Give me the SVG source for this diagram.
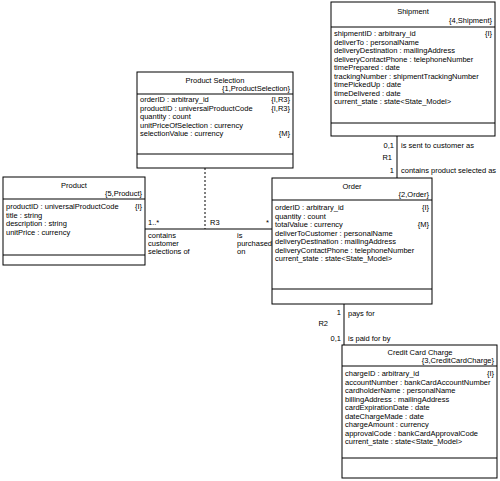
<svg xmlns="http://www.w3.org/2000/svg" width="500" height="481" viewBox="0 0 500 481">
<style>
text{font-family:"Liberation Sans",Arial,sans-serif;font-size:7.5px;fill:#000}
.c{text-anchor:middle}
.r{text-anchor:end}
.box{fill:#fff;stroke:#000;stroke-width:1}
.ln{stroke:#000;stroke-width:1;fill:none}
.dot{stroke:#000;stroke-width:1;stroke-dasharray:2,2;fill:none}
</style>
<rect width="500" height="481" fill="#fff"/>
<g id="connectors">
<line class="ln" x1="397" y1="136" x2="397" y2="178"/>
<line class="ln" x1="145" y1="229" x2="272" y2="229"/>
<line class="dot" x1="205" y1="168" x2="205" y2="229"/>
<line class="ln" x1="344" y1="304" x2="344" y2="345"/>
<text class="r" x="394" y="148">0,1</text>
<text x="401" y="148">is sent to customer as</text>
<text class="r" x="392" y="160">R1</text>
<text class="r" x="394" y="173">1</text>
<text x="401" y="173">contains product selected as</text>
<text x="148" y="225">1..*</text>
<text x="210" y="225">R3</text>
<text class="r" x="269" y="225">*</text>
<text x="148" y="238">contains</text>
<text x="148" y="246">customer</text>
<text x="148" y="254">selections of</text>
<text x="237" y="238">is</text>
<text x="237" y="246">purchased</text>
<text x="237" y="254">on</text>
<text class="r" x="341" y="315">1</text>
<text x="348" y="316">pays for</text>
<text class="r" x="328" y="326">R2</text>
<text class="r" x="341" y="341">0,1</text>
<text x="348" y="341">is paid for by</text>
</g>
<g id="shipment">
<rect class="box" x="331" y="2" width="164" height="134"/>
<line class="ln" x1="331" y1="27" x2="495" y2="27"/>
<line class="ln" x1="331" y1="123" x2="495" y2="123"/>
<text class="c" x="413" y="14">Shipment</text>
<text class="r" x="492" y="23">{4,Shipment}</text>
<text x="334" y="36">shipmentID : arbitrary_id</text>
<text class="r" x="492" y="36">{I}</text>
<text x="334" y="44.5">deliverTo : personalName</text>
<text x="334" y="53">deliveryDestination : mailingAddress</text>
<text x="334" y="61.5">deliveryContactPhone : telephoneNumber</text>
<text x="334" y="70">timePrepared : date</text>
<text x="334" y="78.5">trackingNumber : shipmentTrackingNumber</text>
<text x="334" y="87">timePickedUp : date</text>
<text x="334" y="95.5">timeDelivered : date</text>
<text x="334" y="104">current_state : state&lt;State_Model&gt;</text>
</g>
<g id="productSelection">
<rect class="box" x="137" y="72" width="156" height="96"/>
<line class="ln" x1="137" y1="94" x2="293" y2="94"/>
<line class="ln" x1="137" y1="154" x2="293" y2="154"/>
<text class="c" x="215" y="83">Product Selection</text>
<text class="r" x="290" y="91">{1,ProductSelection}</text>
<text x="140" y="102">orderID : arbitrary_id</text>
<text class="r" x="290" y="102">{I,R3}</text>
<text x="140" y="110.5">productID : universalProductCode</text>
<text class="r" x="290" y="110.5">{I,R3}</text>
<text x="140" y="119">quantity : count</text>
<text x="140" y="127.5">unitPriceOfSelection : currency</text>
<text x="140" y="136">selectionValue : currency</text>
<text class="r" x="290" y="136">{M}</text>
</g>
<g id="product">
<rect class="box" x="3" y="177" width="142" height="88"/>
<line class="ln" x1="3" y1="199" x2="145" y2="199"/>
<line class="ln" x1="3" y1="255" x2="145" y2="255"/>
<text class="c" x="74" y="188">Product</text>
<text class="r" x="142" y="196">{5,Product}</text>
<text x="6" y="209">productID : universalProductCode</text>
<text class="r" x="142" y="209">{I}</text>
<text x="6" y="217.5">title : string</text>
<text x="6" y="226">description : string</text>
<text x="6" y="234.5">unitPrice : currency</text>
</g>
<g id="order">
<rect class="box" x="272" y="178" width="160" height="126"/>
<line class="ln" x1="272" y1="200" x2="432" y2="200"/>
<line class="ln" x1="272" y1="289" x2="432" y2="289"/>
<text class="c" x="352" y="189">Order</text>
<text class="r" x="429" y="197">{2,Order}</text>
<text x="275" y="210">orderID : arbitrary_id</text>
<text class="r" x="429" y="210">{I}</text>
<text x="275" y="218.5">quantity : count</text>
<text x="275" y="227">totalValue : currency</text>
<text class="r" x="429" y="227">{M}</text>
<text x="275" y="235.5">deliverToCustomer : personalName</text>
<text x="275" y="244">deliveryDestination : mailingAddress</text>
<text x="275" y="252.5">deliveryContactPhone : telephoneNumber</text>
<text x="275" y="261">current_state : state&lt;State_Model&gt;</text>
</g>
<g id="creditCardCharge">
<rect class="box" x="342" y="345" width="155" height="133"/>
<line class="ln" x1="342" y1="366" x2="497" y2="366"/>
<line class="ln" x1="342" y1="458" x2="497" y2="458"/>
<text class="c" x="420" y="355">Credit Card Charge</text>
<text class="r" x="494" y="363">{3,CreditCardCharge}</text>
<text x="345" y="376">chargeID : arbitrary_id</text>
<text class="r" x="494" y="376">{I}</text>
<text x="345" y="384.5">accountNumber : bankCardAccountNumber</text>
<text x="345" y="393">cardholderName : personalName</text>
<text x="345" y="401.5">billingAddress : mailingAddress</text>
<text x="345" y="410">cardExpirationDate : date</text>
<text x="345" y="418.5">dateChargeMade : date</text>
<text x="345" y="427">chargeAmount : currency</text>
<text x="345" y="435.5">approvalCode : bankCardApprovalCode</text>
<text x="345" y="444">current_state : state&lt;State_Model&gt;</text>
</g>
</svg>
